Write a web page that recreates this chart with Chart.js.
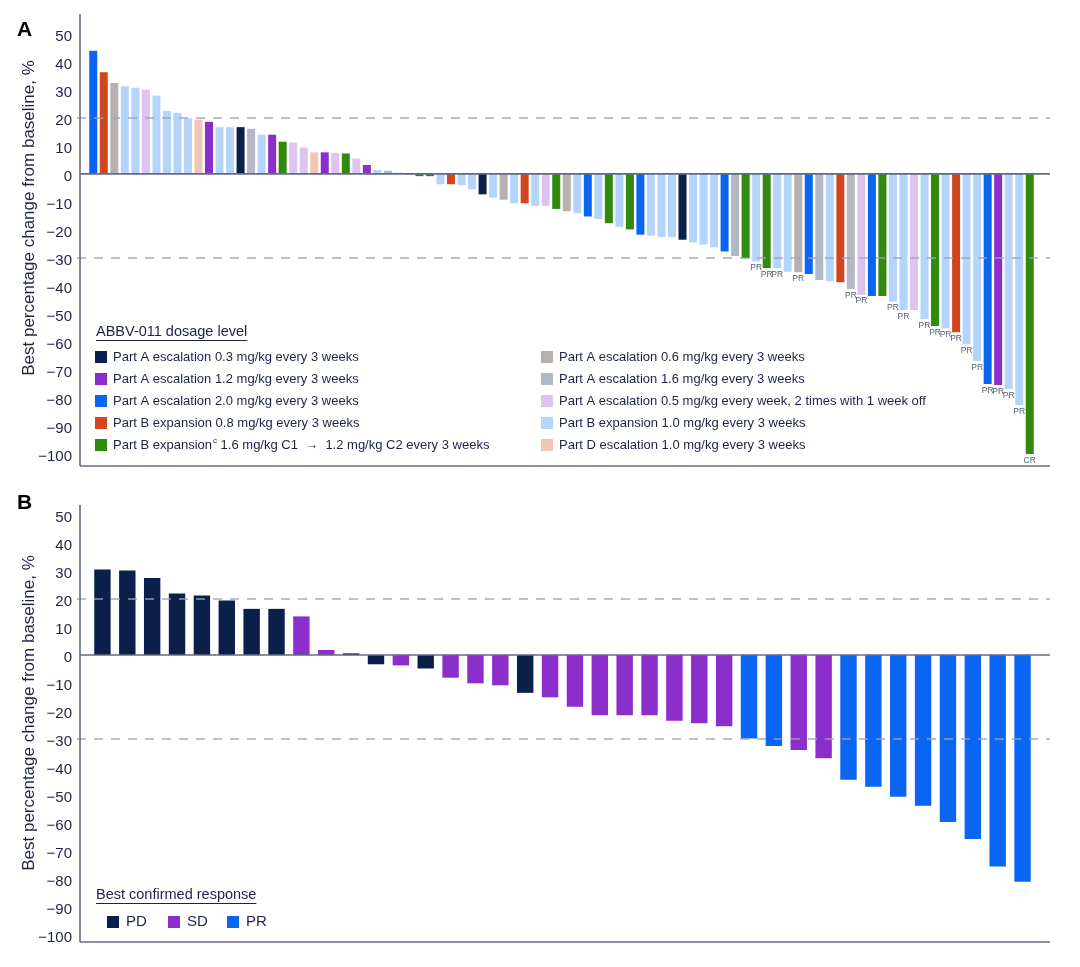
<!DOCTYPE html>
<html lang="en">
<head>
<meta charset="UTF-8">
<title>ABBV-011 best percentage change from baseline</title>
<script src="https://cdn.jsdelivr.net/npm/chart.js"></script>
<style>
  body { margin: 0; background: #fff; overflow: hidden; }
  canvas { position: absolute; left: 0; }
</style>
</head>
<body>
<!-- canvases overlap a little; chart areas land at y 14-466 (A) and 505-942 (B) -->
<canvas id="chartA" width="1080" height="512" style="top:-16px"></canvas>
<canvas id="chartB" width="1080" height="497" style="top:475px"></canvas>
<script>
// ---- data ----
const yTicks = [50, 40, 30, 20, 10, 0, -10, -20, -30, -40, -50, -60, -70, -80, -90, -100];
const refLines = [20, -30];

// panel A: dosage groups (legend order)
const groupNames = [
  'Part A escalation 0.3 mg/kg every 3 weeks',
  'Part A escalation 1.2 mg/kg every 3 weeks',
  'Part A escalation 2.0 mg/kg every 3 weeks',
  'Part B expansion 0.8 mg/kg every 3 weeks',
  'Part B expansion^c 1.6 mg/kg C1  \u2192  1.2 mg/kg C2 every 3 weeks',
  'Part A escalation 0.6 mg/kg every 3 weeks',
  'Part A escalation 1.6 mg/kg every 3 weeks',
  'Part A escalation 0.5 mg/kg every week, 2 times with 1 week off',
  'Part B expansion 1.0 mg/kg every 3 weeks',
  'Part D escalation 1.0 mg/kg every 3 weeks'
];
const groupColors = ['#0b1f4b', '#8b2ecb', '#0a66f2', '#d2461f', '#2f8a0d',
                     '#b6b0af', '#b3b9c4', '#ddc3ef', '#b5d4fb', '#f1c6b6'];

const aValues = [44, 36.3, 32.5, 31.3, 30.8, 30.1, 28.0, 22.5, 21.8, 19.9,
                 19.4, 18.6, 16.7, 16.7, 16.7, 16.1, 14.0, 14.0, 11.5, 11.2,
                 9.4, 7.7, 7.7, 7.5, 7.3, 5.5, 3.2, 1.4, 1.1, 0.5,
                 -0.3, -0.8, -0.8, -3.7, -3.7, -4.0, -5.5, -7.3, -8.5, -9.2,
                 -10.5, -10.5, -11.4, -11.4, -12.5, -13.3, -14.0, -15.2, -16.1, -17.6,
                 -18.9, -19.8, -21.7, -22.0, -22.5, -22.5, -23.5, -24.5, -25.2, -26.2,
                 -27.7, -29.3, -30.1, -31.3, -33.6, -33.7, -34.9, -35.1, -35.7, -37.9,
                 -38.2, -38.7, -41.1, -43.2, -43.6, -43.6, -45.6, -48.6, -48.6, -51.8,
                 -54.3, -55.1, -56.5, -60.8, -66.8, -75.0, -75.4, -76.8, -82.5, -100];
const aGroups = [2, 3, 5, 8, 8, 7, 8, 8, 8, 8,
                 9, 1, 8, 8, 0, 6, 8, 1, 4, 7,
                 7, 9, 1, 7, 4, 7, 1, 8, 6, 8,
                 6, 4, 4, 8, 3, 8, 8, 0, 8, 5,
                 8, 3, 8, 7, 4, 5, 8, 2, 8, 4,
                 8, 4, 2, 8, 8, 8, 0, 8, 8, 8,
                 2, 6, 4, 8, 4, 8, 8, 5, 2, 6,
                 8, 3, 6, 7, 2, 4, 8, 8, 7, 8,
                 4, 8, 3, 8, 8, 2, 1, 8, 8, 4];
const aResponse = ['', '', '', '', '', '', '', '', '', '',
                   '', '', '', '', '', '', '', '', '', '',
                   '', '', '', '', '', '', '', '', '', '',
                   '', '', '', '', '', '', '', '', '', '',
                   '', '', '', '', '', '', '', '', '', '',
                   '', '', '', '', '', '', '', '', '', '',
                   '', '', '', 'PR', 'PR', 'PR', '', 'PR', '', '',
                   '', '', 'PR', 'PR', '', '', 'PR', 'PR', '', 'PR',
                   'PR', 'PR', 'PR', 'PR', 'PR', 'PR', 'PR', 'PR', 'PR', 'CR'];

// panel B: best confirmed response
const respNames = ['PD', 'SD', 'PR'];
const respColors = ['#0b1f4b', '#8b2ecb', '#0a66f2'];
const bValues = [30.6, 30.2, 27.5, 22.0, 21.3, 19.5, 16.5, 16.5, 13.8, 1.8,
                 0.6, -3.3, -3.7, -4.8, -8.1, -10.1, -10.8, -13.5, -15.1, -18.5,
                 -21.5, -21.5, -21.5, -23.5, -24.4, -25.4, -29.8, -32.5, -33.9, -36.9,
                 -44.5, -47.0, -50.6, -53.8, -59.6, -65.7, -75.5, -81.0];
const bResponse = ['PD', 'PD', 'PD', 'PD', 'PD', 'PD', 'PD', 'PD', 'SD', 'SD',
                   'PD', 'PD', 'SD', 'PD', 'SD', 'SD', 'SD', 'PD', 'SD', 'SD',
                   'SD', 'SD', 'SD', 'SD', 'SD', 'SD', 'PR', 'PR', 'SD', 'SD',
                   'PR', 'PR', 'PR', 'PR', 'PR', 'PR', 'PR', 'PR'];

// ---- styling ----
const FONT = '"Liberation Sans", Arial, Helvetica, sans-serif';
const TEXT = '#1d2346';
const AXIS = '#646a80';
const YTITLE = 'Best percentage change from baseline, %';

const fmt = v => (v < 0 ? '\u2212' + Math.abs(v) : String(v));

function hline(ctx, x1, x2, y) {
  ctx.beginPath(); ctx.moveTo(x1, y); ctx.lineTo(x2, y); ctx.stroke();
}

function drawLegendText(ctx, label, x, y) {
  const parts = label.split('^c');
  ctx.font = '13px ' + FONT;
  ctx.fillText(parts[0], x, y);
  if (parts.length > 1) {
    let px = x + ctx.measureText(parts[0]).width + 1;
    ctx.font = '8px ' + FONT;
    ctx.fillText('c', px, y - 4);
    px += ctx.measureText('c').width;
    ctx.font = '13px ' + FONT;
    ctx.fillText(parts[1], px, y);
  }
}

function underlinedTitle(ctx, text, x, y) {
  ctx.font = '14.5px ' + FONT;
  ctx.fillText(text, x, y);
  const w = ctx.measureText(text).width;
  ctx.strokeStyle = TEXT; ctx.lineWidth = 1;
  hline(ctx, x, x + w, Math.round(y + 8) + 0.5);
}

// p.top = canvas offset on the page, so drawing below uses page coordinates
function panelPlugin(p) {
  return {
    id: 'panel' + p.letter,
    afterDatasetsDraw(chart) {
      const { ctx, chartArea, scales } = chart;
      const y = scales.y;
      ctx.save();
      // reference lines at +20 / -30
      ctx.strokeStyle = 'rgba(155,163,186,0.9)';
      ctx.lineWidth = 1.5;
      ctx.setLineDash([9, 8]);
      refLines.forEach(v => hline(ctx, p.axisX - 3, p.axisRight, y.getPixelForValue(v)));
      ctx.setLineDash([]);
      // zero line, left axis, bottom axis
      ctx.strokeStyle = AXIS;
      ctx.lineWidth = 1.6;
      hline(ctx, p.axisX, p.axisRight, y.getPixelForValue(0));
      hline(ctx, p.axisX, p.axisRight, chartArea.bottom);
      ctx.beginPath();
      ctx.moveTo(p.axisX, chartArea.top); ctx.lineTo(p.axisX, chartArea.bottom);
      ctx.stroke();
      // response annotations under bars
      if (p.annot) {
        const meta = chart.getDatasetMeta(0);
        ctx.fillStyle = '#555c70';
        ctx.font = '8.5px ' + FONT;
        ctx.textAlign = 'center';
        ctx.textBaseline = 'top';
        meta.data.forEach((bar, i) => {
          if (p.annot[i]) ctx.fillText(p.annot[i], bar.x, bar.y + 2);
        });
      }
      ctx.restore();
    },
    afterDraw(chart) {
      const ctx = chart.ctx;
      ctx.save();
      ctx.translate(0, -p.top);
      // panel letter
      ctx.font = 'bold 21px ' + FONT;
      ctx.fillStyle = '#000';
      ctx.textBaseline = 'middle';
      ctx.fillText(p.letter, 17, p.letterY);
      // y axis title
      ctx.fillStyle = TEXT;
      ctx.save();
      ctx.translate(29, p.titleY);
      ctx.rotate(-Math.PI / 2);
      ctx.textAlign = 'center';
      ctx.font = '17px ' + FONT;
      ctx.fillText(YTITLE, 0, 0);
      ctx.restore();
      p.legend(ctx);
      ctx.restore();
    }
  };
}

function legendA(ctx) {
  ctx.textBaseline = 'middle';
  ctx.fillStyle = TEXT;
  underlinedTitle(ctx, 'ABBV-011 dosage level', 96, 332);
  const rows = [357, 379, 401, 423, 445];
  groupNames.forEach((name, g) => {
    const sx = g < 5 ? 95 : 541;
    const ry = rows[g % 5];
    ctx.fillStyle = groupColors[g];
    ctx.fillRect(sx, ry - 6, 12, 12);
    ctx.fillStyle = TEXT;
    drawLegendText(ctx, name, sx + 18, ry);
  });
}

function legendB(ctx) {
  ctx.textBaseline = 'middle';
  ctx.fillStyle = TEXT;
  underlinedTitle(ctx, 'Best confirmed response', 96, 895);
  const xs = [107, 168, 227];
  respNames.forEach((name, i) => {
    ctx.fillStyle = respColors[i];
    ctx.fillRect(xs[i], 916, 12, 12);
    ctx.fillStyle = TEXT;
    ctx.font = '15px ' + FONT;
    ctx.fillText(name, xs[i] + 19, 922);
  });
}

function yScale(min, max, width, pad) {
  return {
    min: min, max: max,
    grid: { display: false, drawTicks: false },
    border: { display: false },
    afterFit: s => { s.width = width; },
    afterBuildTicks: s => { s.ticks = yTicks.map(v => ({ value: v })); },
    ticks: { padding: pad, labelOffset: 2.5, color: TEXT, font: { family: FONT, size: 15 }, callback: v => fmt(v) }
  };
}

new Chart(document.getElementById('chartA'), {
  type: 'bar',
  data: {
    labels: aValues.map((_, i) => 'A' + (i + 1)),
    datasets: [{
      data: aValues,
      backgroundColor: aGroups.map(g => groupColors[g]),
      barPercentage: 0.76,
      categoryPercentage: 1
    }]
  },
  options: {
    responsive: false, animation: false, devicePixelRatio: 1,
    layout: { padding: { top: 30, bottom: 30, right: 45, left: 0 } },
    plugins: { legend: { display: false }, tooltip: { enabled: false } },
    scales: { x: { display: false }, y: yScale(-104.3, 57.1, 88, 16) }
  },
  plugins: [panelPlugin({ letter: 'A', top: -16, letterY: 30, titleY: 218, axisX: 80, axisRight: 1050,
                          annot: aResponse, legend: legendA })]
});

new Chart(document.getElementById('chartB'), {
  type: 'bar',
  data: {
    labels: bValues.map((_, i) => 'B' + (i + 1)),
    datasets: [{
      data: bValues,
      backgroundColor: bResponse.map(r => respColors[respNames.indexOf(r)]),
      barPercentage: 0.66,
      categoryPercentage: 1
    }]
  },
  options: {
    responsive: false, animation: false, devicePixelRatio: 1,
    layout: { padding: { top: 30, bottom: 30, right: 45, left: 0 } },
    plugins: { legend: { display: false }, tooltip: { enabled: false } },
    scales: { x: { display: false }, y: yScale(-102.5, 53.6, 90, 18) }
  },
  plugins: [panelPlugin({ letter: 'B', top: 475, letterY: 503, titleY: 713, axisX: 80, axisRight: 1050,
                          annot: null, legend: legendB })]
});
</script>
</body>
</html>
